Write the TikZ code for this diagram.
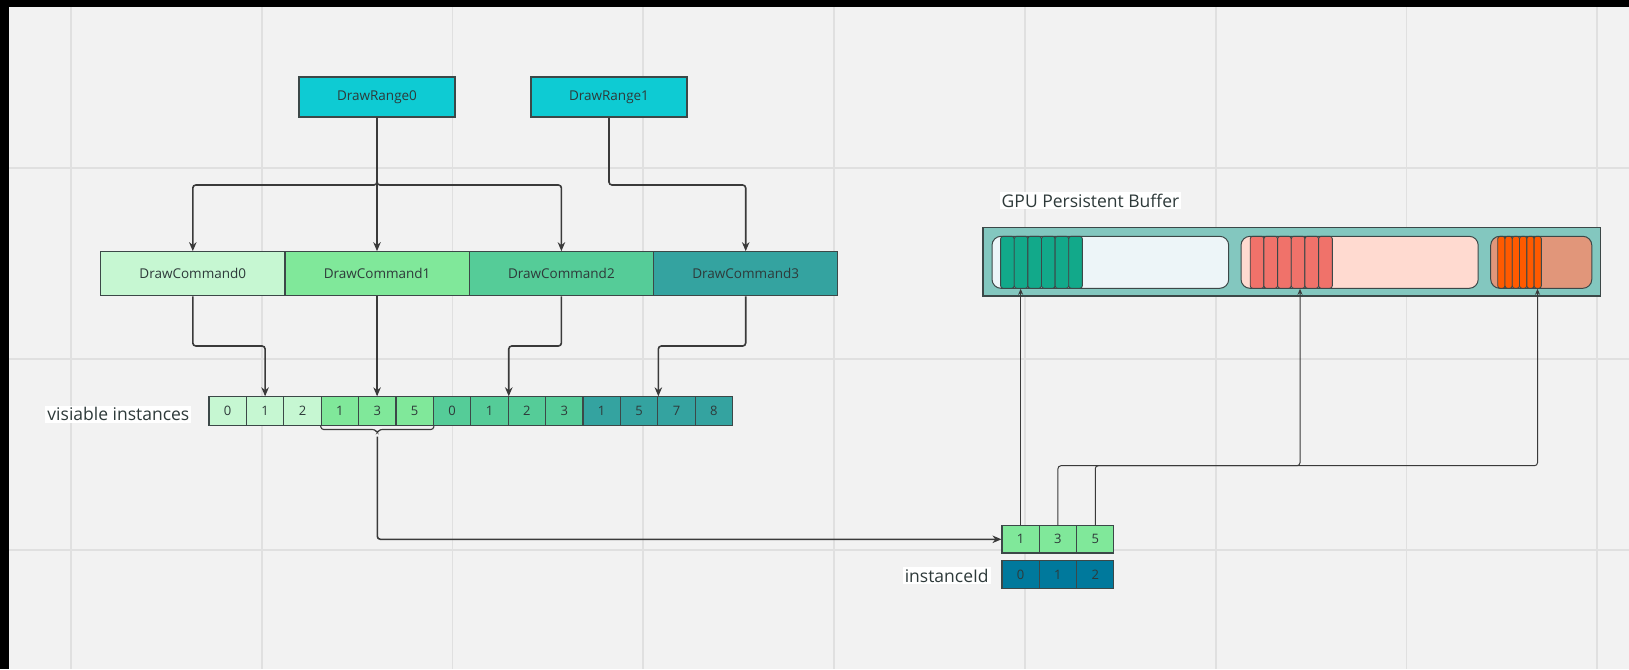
\documentclass[tikz,border=0pt]{standalone}
\usepackage{fontspec}
\setmainfont{Open Sans}
\usetikzlibrary{arrows.meta}

\definecolor{bg}{HTML}{F2F2F2}
\definecolor{gridc}{HTML}{E0E0E0}
\definecolor{linec}{HTML}{3A3A3A}
\definecolor{edgec}{HTML}{3C4848}
\definecolor{txt}{HTML}{2E3A3A}
\definecolor{rangec}{HTML}{0ECBD3}
\definecolor{dca}{HTML}{C6F7D2}
\definecolor{dcb}{HTML}{80E89A}
\definecolor{dcc}{HTML}{55CC98}
\definecolor{dcd}{HTML}{34A3A0}
\definecolor{idc}{HTML}{00799C}
\definecolor{bufc}{HTML}{83C7BF}
\definecolor{slota}{HTML}{EDF5F8}
\definecolor{slotb}{HTML}{FFDAD0}
\definecolor{slotc}{HTML}{E1967A}
\definecolor{bara}{HTML}{12A98A}
\definecolor{barb}{HTML}{F0726A}
\definecolor{barc}{HTML}{FF5A00}

\tikzset{
  conn/.style={draw=linec, line width=1.6pt, rounded corners=3pt,
    -{Stealth[length=9pt,width=7.5pt]}},
  thinconn/.style={draw=linec, line width=1pt, rounded corners=3pt,
    -{Stealth[length=6pt,width=5pt]}},
  box/.style={draw=edgec, line width=1.1pt, text=txt, inner sep=0pt,
    font=\fontsize{13.5}{16}\selectfont},
  rangebox/.style={box, fill=rangec, minimum width=156pt, minimum height=40pt},
  cmdbox/.style={box, minimum width=184.3pt, minimum height=44pt},
  cell/.style={box, minimum width=37.4pt, minimum height=28.3pt,
    font=\fontsize{13}{15}\selectfont},
  idcell/.style={box, minimum width=37.3pt, minimum height=27.4pt,
    font=\fontsize{13}{15}\selectfont},
  label/.style={fill=white, text=txt, inner xsep=2pt, inner ysep=1.5pt,
    font=\fontsize{17.5}{20}\selectfont},
  slot/.style={draw=edgec, line width=1pt, rounded corners=9pt, inner sep=0pt,
    minimum height=52pt},
  bar/.style={draw=edgec, line width=0.9pt, rounded corners=2.5pt},
}

\begin{document}
\begin{tikzpicture}[x=1pt,y=-1pt]
  % canvas, grid and frame
  \useasboundingbox (0,0) rectangle (1629,669);
  \fill[bg] (0,0) rectangle (1629,669);
  \foreach \k in {0,...,8}
    \draw[gridc, line width=1.8pt] ({70.8+190.8*\k},0) -- ({70.8+190.8*\k},669);
  \foreach \k in {0,...,2}
    \draw[gridc, line width=1.8pt] (0,{168+190.8*\k}) -- (1629,{168+190.8*\k});
  \fill[black] (0,0) rectangle (1629,6.7);
  \fill[black] (0,0) rectangle (9,669);

  % draw ranges
  \node[rangebox] (r0) at (377,97) {DrawRange0};
  \node[rangebox] (r1) at (609,97) {DrawRange1};

  % draw commands
  \node[cmdbox, fill=dca] (c0) at (192.8,273.7) {DrawCommand0};
  \node[cmdbox, fill=dcb] (c1) at (377.1,273.7) {DrawCommand1};
  \node[cmdbox, fill=dcc] (c2) at (561.4,273.7) {DrawCommand2};
  \node[cmdbox, fill=dcd] (c3) at (745.7,273.7) {DrawCommand3};

  % visible instance list
  \node[label] (vislabel) at (118.4,414.3) {visiable instances};
  \foreach \v/\c [count=\k from 0] in
    {0/dca,1/dca,2/dca,1/dcb,3/dcb,5/dcb,0/dcc,1/dcc,2/dcc,3/dcc,1/dcd,5/dcd,7/dcd,8/dcd}
    \node[cell, fill=\c] (v\k) at ({209+37.4*(\k+0.5)},411) {\v};

  % range -> command connectors
  \coordinate (s0) at (377,185);
  \coordinate (s1) at (609,185);
  \draw[conn] (r0.south) -- (r0.south |- c1.north);
  \draw[conn] (r0.south) -- (s0) -| (c0.north);
  \draw[conn] (r0.south) -- (s0) -| (c2.north);
  \draw[conn] (r1.south) -- (s1) -| (c3.north);

  % command -> instance connectors
  \coordinate (d0) at (192.8,346);
  \coordinate (d2) at (561.4,346);
  \coordinate (d3) at (745.7,346);
  \draw[conn] (c0.south) -- (d0) -| (v1.north);
  \draw[conn] (c1.south) -- (c1.south |- v4.north);
  \draw[conn] (c2.south) -- (d2) -| (v7.north east);
  \draw[conn] (c3.south) -- (d3) -| (v11.north east);

  % brace under the instances of DrawCommand1
  \draw[linec, line width=1.1pt, rounded corners=2.5pt]
    (v3.south west) -- (321.2,429.5) -- (375,429.5) -- (377.3,433)
    -- (379.6,429.5) -- (433.4,429.5) -- (v5.south east);
  \coordinate (bt) at (377.3,436.5);

  % instance ids
  \node[idcell, fill=dcb] (i0) at (1020.65,539.3) {1};
  \node[idcell, fill=dcb] (i1) at (1057.95,539.3) {3};
  \node[idcell, fill=dcb] (i2) at (1095.25,539.3) {5};
  \node[idcell, fill=idc] (n0) at (1020.65,574.5) {0};
  \node[idcell, fill=idc] (n1) at (1057.95,574.5) {1};
  \node[idcell, fill=idc] (n2) at (1095.25,574.5) {2};
  \node[label] (idlabel) at (946.7,575.5) {instanceId};

  \draw[conn] (bt) |- (i0.west);

  % GPU persistent buffer
  \node[label] (buflabel) at (1090.5,200.5) {GPU Persistent Buffer};
  \node[draw=edgec, line width=1.1pt, fill=bufc, inner sep=0pt,
        minimum width=617.5pt, minimum height=68.7pt] (buf) at (1291.75,261.65) {};
  \node[slot, fill=slota, minimum width=236.7pt] (b1) at (1110.35,262.3) {};
  \node[slot, fill=slotb, minimum width=237.2pt] (b2) at (1359.6,262.3) {};
  \node[slot, fill=slotc, minimum width=101.1pt] (b3) at (1541.25,262.3) {};
  \foreach \i in {0,...,5} {
    \draw[bar, fill=bara] ({1000.6+13.62*\i},236.3) rectangle ++(13.62,52);
    \draw[bar, fill=barb] ({1250.2+13.68*\i},236.3) rectangle ++(13.68,52);
    \draw[bar, fill=barc] ({1497.7+7.27*\i},236.3) rectangle ++(7.27,52);
  }

  % instance id -> buffer slots
  \coordinate (h2) at (1300,465.7);
  \coordinate (h3) at (1537.5,465.7);
  \draw[thinconn] (i0.north) -- (i0.north |- b1.south);
  \draw[thinconn] (i1.north) |- (h2) -- (h2 |- b2.south);
  \draw[thinconn] (i2.north) |- (h3) -- (h3 |- b3.south);
\end{tikzpicture}
\end{document}
